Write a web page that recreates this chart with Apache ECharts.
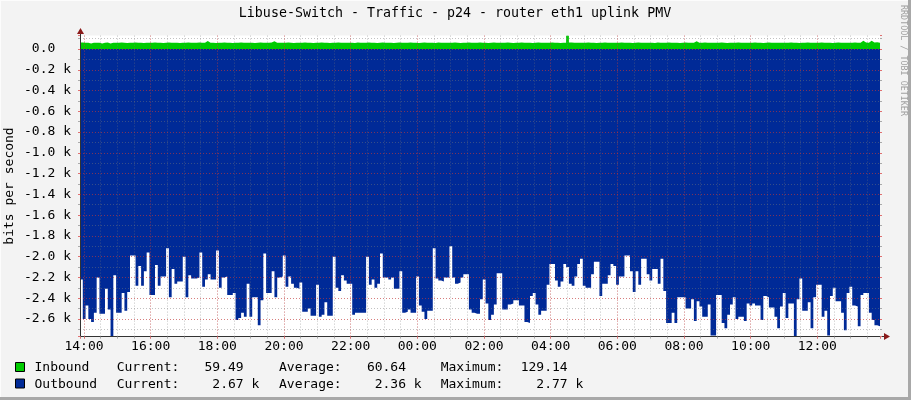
<!DOCTYPE html>
<html><head><meta charset="utf-8">
<script src="https://cdn.jsdelivr.net/npm/echarts@6/dist/echarts.min.js"></script>
<style>html,body{margin:0;padding:0;background:#F3F3F3}#c{width:911px;height:400px}</style>
</head><body><div id="c"></div>
<script>
const titleText = 'Libuse-Switch - Traffic - p24 - router eth1 uplink PMV';
const yAxisName = 'bits per second';
const creditText = 'RRDTOOL / TOBI OETIKER';
const xTickLabels = ['14:00','16:00','18:00','20:00','22:00','00:00','02:00','04:00','06:00','08:00','10:00','12:00'];
const stepMinutes = 5;
const xStartHours = -0.12;   // start of graph, hours relative to 14:00
const yMin = -2770, yMax = 129.14;

const inbound = [
62,61,60,52,61,60,61,53,60,62,54,61,
60,61,62,60,59,61,60,62,61,60,59,61,
60,61,62,61,60,59,61,62,60,61,60,59,
61,60,62,61,60,61,62,60,61,78,61,60,
59,61,60,62,61,60,59,61,60,62,61,60,
61,60,59,61,62,60,61,60,62,74,61,60,
60,61,62,60,59,61,60,61,62,60,61,59,
61,60,62,61,60,59,61,60,62,61,60,61,
60,61,59,62,60,61,60,62,61,60,59,61,
62,60,61,60,59,61,62,60,61,60,62,61,
60,59,61,62,60,61,60,59,62,61,60,61,
61,60,62,61,59,60,61,62,60,61,60,62,
60,61,59,61,62,60,61,60,61,62,60,59,
61,60,62,61,60,61,59,60,62,61,60,61,
60,62,61,60,59,61,60,129.14,62,61,60,61,
61,60,62,60,61,59,61,60,62,61,60,61,
60,61,62,60,61,60,59,61,62,60,61,60,
61,60,59,62,61,60,61,62,60,61,60,59,
61,62,60,61,60,74,61,60,62,61,60,61,
60,61,62,60,59,61,60,61,62,60,61,60,
61,60,62,61,60,59,61,62,60,61,60,61,
60,61,60,62,61,60,59,61,60,62,61,60,
61,60,62,61,60,61,59,60,62,61,60,61,
60,61,62,60,61,79,62,61,80,63,66,59.49
];

const outbound = [
2220,2600,2470,2600,2630,2540,2200,2550,2550,2310,
2510,2770,2180,2540,2540,2350,2520,2340,1990,1990,
2280,2090,2280,2140,1960,2370,2370,2080,2280,2190,
2190,1920,2390,2120,2260,2240,2240,2000,2390,2180,
2210,2210,2200,1960,2290,2220,2170,2220,2220,1940,
2300,2200,2190,2370,2370,2350,2610,2590,2540,2580,
2260,2580,2390,2390,2660,2420,1970,2350,2350,2140,
2390,2200,
2190,1990,2290,2190,2260,2300,2310,2250,2530,2530,
2500,2570,2570,2270,2580,2560,2440,2570,2570,2000,
2300,2330,2180,2230,2260,2260,2560,2540,2540,2540,
2540,2000,2270,2220,2300,2260,1970,2200,2200,2220,
2200,2310,2310,2140,2540,2530,2510,2540,2540,2190,
2470,2530,2600,2520,2520,1920,2210,2230,2240,2200,
2200,1900,2200,2260,2250,2200,2170,2170,2510,2540,
2550,2550,2410,2220,2450,2610,2560,2460,2160,2160,
2510,2510,2460,2450,2420,2420,2470,2470,2630,2640,
2380,2350,2460,2560,2520,2520,2270,2070,2070,2230,
2290,2240,2070,2100,2260,2280,2190,2070,2020,2280,
2300,2300,2170,2050,2050,2380,2260,2260,2180,2070,
2090,2270,2190,2190,1990,1990,2140,2340,2140,2270,
2020,2020,2170,2230,2120,2120,2260,2020,2330,2640,
2640,2540,
2640,2390,2390,2390,2500,2500,2410,2620,2430,2480,
2580,2580,2460,2760,2760,2370,2370,2640,2690,2560,
2460,2390,2600,2580,2580,2620,2450,2470,2450,2470,
2470,2610,2380,2390,2490,2490,2580,2690,2480,2350,
2590,2450,2450,2770,2410,2210,2520,2520,2440,2690,
2390,2270,2270,2580,2520,2760,2380,2300,2430,2430,
2540,2710,2350,2290,2470,2480,2670,2370,2350,2350,
2540,2610,2660,2670
];

const legendNames = ['Inbound', 'Outbound'];
const legendColors = ['#00CC00', '#002A97'];
const statCurrent = ['59.49', '2.67'];
const statAverage = ['60.64', '2.36'];
const statMaximum = ['129.14', '2.77'];
const statUnits = ['', 'k'];

const stepH = stepMinutes / 60;
const xMax = xStartHours + outbound.length * stepH;
function toSteps(arr, sign) {
  const d = arr.map((v, i) => [xStartHours + i * stepH, sign * v]);
  d.push([xStartHours + arr.length * stepH, sign * arr[arr.length - 1]]);
  return d;
}
const inData = toSteps(inbound, 1);
const outData = toSteps(outbound, -1);

const FONT = 'DejaVu Sans Mono';
const minorGrid = 'rgba(120,120,120,0.45)';
const majorGrid = 'rgba(255,0,0,0.35)';

function yFmt(v) {
  if (Math.abs(v / 200 - Math.round(v / 200)) > 1e-6) return '';
  if (Math.abs(v) < 1e-6) return '0.0  ';
  return (v / 1000).toFixed(1) + ' k';
}
function xFmt(v) {
  const idx = Math.round(v / 2);
  if (Math.abs(v - idx * 2) > 1e-6) return '';
  return xTickLabels[idx] || '';
}

const chart = echarts.init(document.getElementById('c'), null, {renderer: 'canvas'});
const grid = {left: 80, width: 800, top: 35.6, height: 301, show: true, backgroundColor: '#FFFFFF', borderWidth: 0};
const baseX = {type: 'value', min: xStartHours, max: xMax, position: 'bottom', z: 3};
const baseY = {type: 'value', min: yMin, max: yMax, z: 3};

const legendGraphics = [];
legendNames.forEach((name, i) => {
  const ty = 368 + i * 16.5;
  legendGraphics.push({type: 'rect', shape: {x: 15.5, y: ty - 5.5, width: 9, height: 9},
    style: {fill: legendColors[i], stroke: '#000', lineWidth: 1}});
  const txt = (x, s) => legendGraphics.push({type: 'text', x: x, y: ty,
    style: {text: s, font: '13px "' + FONT + '"', fill: '#000', textAlign: 'left', textVerticalAlign: 'middle'}});
  txt(34.5, name);
  txt(116.7, 'Current:');
  txt(181, statCurrent[i].padStart(8) + ' ' + statUnits[i]);
  txt(279, 'Average:');
  txt(343.4, statAverage[i].padStart(8) + ' ' + statUnits[i]);
  txt(440.7, 'Maximum:');
  txt(505, statMaximum[i].padStart(8) + ' ' + statUnits[i]);
});

chart.setOption({
  animation: false,
  backgroundColor: '#F3F3F3',
  grid: grid,
  xAxis: [
    Object.assign({}, baseX, {
      splitNumber: 48, minInterval: 0.5, maxInterval: 0.5,
      axisLine: {show: true, onZero: false, lineStyle: {color: '#333', width: 1}},
      axisTick: {show: true, length: 2, lineStyle: {color: '#aaa'}},
      axisLabel: {show: false},
      splitLine: {show: true, showMinLine: false, showMaxLine: false, lineStyle: {color: minorGrid, type: [1, 2], width: 1}}
    }),
    Object.assign({}, baseX, {
      splitNumber: 12, minInterval: 2, maxInterval: 2, z: 4,
      axisLine: {show: false, onZero: false},
      axisTick: {show: true, length: 2, lineStyle: {color: '#e07070'}},
      axisLabel: {show: true, formatter: xFmt, margin: 4, fontFamily: FONT, fontSize: 13, color: '#000',
        showMinLabel: true, showMaxLabel: true, hideOverlap: false},
      splitLine: {show: true, showMinLine: false, showMaxLine: false, lineStyle: {color: majorGrid, type: [1, 2], width: 1}}
    })
  ],
  yAxis: [
    Object.assign({}, baseY, {
      position: 'left', splitNumber: 29, minInterval: 100, maxInterval: 100,
      axisLine: {show: true, onZero: false, lineStyle: {color: '#333', width: 1}},
      axisTick: {show: true, length: 2, lineStyle: {color: '#aaa'}},
      axisLabel: {show: false},
      splitLine: {show: true, showMinLine: false, showMaxLine: false, lineStyle: {color: minorGrid, type: [1, 2], width: 1}}
    }),
    Object.assign({}, baseY, {
      position: 'left', splitNumber: 14, minInterval: 200, maxInterval: 200, z: 4,
      axisLine: {show: false, onZero: false},
      axisTick: {show: true, length: 2, lineStyle: {color: '#e07070'}},
      axisLabel: {show: true, formatter: yFmt, margin: 9, fontFamily: FONT, fontSize: 13, color: '#000',
        showMinLabel: true, showMaxLabel: true, hideOverlap: false},
      splitLine: {show: true, showMinLine: false, showMaxLine: false, lineStyle: {color: majorGrid, type: [1, 2], width: 1}}
    }),
    Object.assign({}, baseY, {
      position: 'right', splitNumber: 29, minInterval: 100, maxInterval: 100,
      axisLine: {show: false, onZero: false},
      axisTick: {show: true, length: 2, lineStyle: {color: '#aaa'}},
      axisLabel: {show: false}, splitLine: {show: false}
    }),
    Object.assign({}, baseY, {
      position: 'right', splitNumber: 14, minInterval: 200, maxInterval: 200,
      axisLine: {show: false, onZero: false},
      axisTick: {show: true, length: 2, lineStyle: {color: '#e07070'}},
      axisLabel: {show: false}, splitLine: {show: false}
    })
  ],
  series: [
    {name: 'Outbound', type: 'line', xAxisIndex: 0, yAxisIndex: 0, data: outData, step: 'end',
      symbol: 'none', showSymbol: false, clip: true, z: 2,
      lineStyle: {width: 0, opacity: 0}, areaStyle: {color: legendColors[1], opacity: 1}},
    {name: 'Inbound', type: 'line', xAxisIndex: 0, yAxisIndex: 0, data: inData, step: 'end',
      symbol: 'none', showSymbol: false, clip: true, z: 2,
      lineStyle: {width: 0, opacity: 0}, areaStyle: {color: legendColors[0], opacity: 1}}
  ],
  graphic: [
    {type: 'line', shape: {x1: 0, y1: 0.5, x2: 911, y2: 0.5}, style: {stroke: '#FCFCFC', lineWidth: 1}},
    {type: 'line', shape: {x1: 0.5, y1: 0, x2: 0.5, y2: 400}, style: {stroke: '#FCFCFC', lineWidth: 1}},
    {type: 'line', shape: {x1: 0, y1: 398.5, x2: 911, y2: 398.5}, style: {stroke: '#A8A8A8', lineWidth: 3}},
    {type: 'line', shape: {x1: 909.5, y1: 0, x2: 909.5, y2: 400}, style: {stroke: '#A8A8A8', lineWidth: 3}},
    {type: 'text', x: 455, y: 14, style: {text: titleText, font: '13.3px "' + FONT + '"', fill: '#000',
      textAlign: 'center', textVerticalAlign: 'middle'}},
    {type: 'text', x: 10, y: 186, rotation: Math.PI / 2, style: {text: yAxisName, font: '13px "' + FONT + '"',
      fill: '#000', textAlign: 'center', textVerticalAlign: 'middle'}},
    {type: 'text', x: 903.5, y: 5, rotation: -Math.PI / 2, style: {text: creditText, font: '8.4px "' + FONT + '"',
      fill: '#A0A0A0', textAlign: 'left', textVerticalAlign: 'middle'}},
    {type: 'line', shape: {x1: 80.5, y1: 30, x2: 80.5, y2: 36}, style: {stroke: '#333', lineWidth: 1}},
    {type: 'line', shape: {x1: 880, y1: 336.5, x2: 885, y2: 336.5}, style: {stroke: '#333', lineWidth: 1}},
    {type: 'polygon', shape: {points: [[77, 34], [84, 34], [80.5, 28]]}, style: {fill: '#8B1A1A'}},
    {type: 'polygon', shape: {points: [[884, 333], [884, 340], [890, 336.5]]}, style: {fill: '#8B1A1A'}}
  ].concat(legendGraphics)
});
</script>
</body></html>
